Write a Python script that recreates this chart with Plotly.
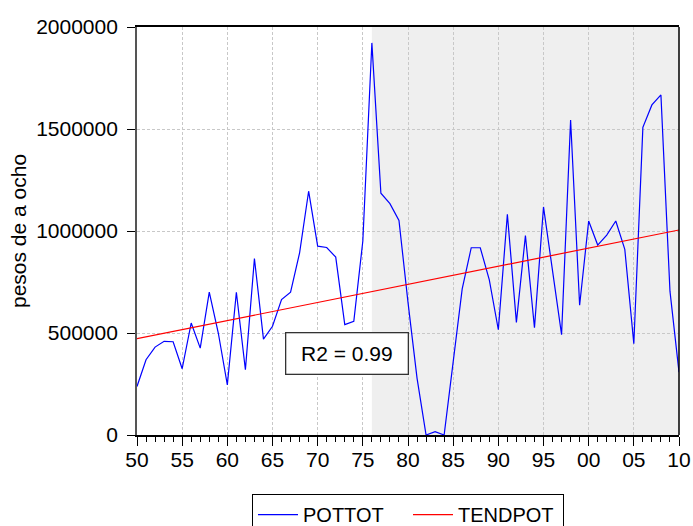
import plotly.graph_objects as go

# Years and series
years = list(range(1950, 2011))
pottot = [
    238000, 369000, 431000, 459000, 457000, 325000, 549000, 426000, 700000, 500000,
    246000, 700000, 320000, 865000, 470000, 533000, 664000, 700000, 893000, 1195000,
    926000, 919000, 872000, 541000, 557000, 951000, 1922000, 1185000, 1134000, 1052000,
    650000, 279000, 0, 16000, 0, 355000, 716000, 918000, 918000, 760000,
    516000, 1082000, 552000, 978000, 526000, 1118000, 805000, 492000, 1544000, 636000,
    1049000, 931000, 980000, 1049000, 910000, 447000, 1508000, 1618000, 1667000, 705000,
    308000,
]

# Linear trend (end points)
trend_years = [1950, 2010]
tendpot = [472000, 1005000]

# Shaded period
shade_start = 1976
shade_end = 2010

x_tickvals = list(range(1950, 2011, 5))
x_ticktext = ["50", "55", "60", "65", "70", "75", "80", "85", "90", "95", "00", "05", "10"]
y_tickvals = [0, 500000, 1000000, 1500000, 2000000]
y_ticktext = ["0", "500000", "1000000", "1500000", "2000000"]

font_family = "Liberation Sans, Arial, sans-serif"

# Create the line plots
line_pot = go.Scatter(x=years, y=pottot, mode='lines', name='POTTOT',
                      line=dict(color='#0000ff', width=1.2))
line_tend = go.Scatter(x=trend_years, y=tendpot, mode='lines', name='TENDPOT',
                       line=dict(color='#ff0000', width=1.2))

fig = go.Figure()
fig.add_trace(line_pot)
fig.add_trace(line_tend)

# Shaded region behind the grid
fig.add_shape(type='rect', xref='x', yref='y domain', x0=shade_start, x1=shade_end,
              y0=0, y1=1, fillcolor='#efefef', line_width=0, layer='below')

# Right border of the frame
fig.add_shape(type='line', xref='paper', yref='paper', x0=1, x1=1, y0=0, y1=1,
              line=dict(color='black', width=1.5))

fig.add_annotation(
    x=0.388, y=0.2, xref='paper', yref='paper',
    xanchor='center', yanchor='middle',
    text="R2 = 0.99", showarrow=False,
    font=dict(family=font_family, size=21, color='black'),
    bgcolor='white', bordercolor='#333333', borderwidth=1.3,
    borderpad=2, width=117, height=36,
)

fig.update_layout(
    width=693, height=526,
    margin=dict(l=137, r=14, t=27, b=91, autoexpand=False),
    paper_bgcolor='white',
    plot_bgcolor='white',
    font=dict(family=font_family, size=20, color='black'),
    showlegend=True,
    legend=dict(
        orientation='h', x=0.5, xanchor='center', y=-0.145, yanchor='top',
        bordercolor='black', borderwidth=1, bgcolor='white',
        font=dict(size=20), itemwidth=40, valign='top', entrywidth=100,
    ),
    xaxis=dict(
        range=[1950, 2010], automargin=False,
        tickvals=x_tickvals, ticktext=x_ticktext,
        ticks='outside', ticklen=9, tickcolor='black', tickwidth=1,
        ticklabelstandoff=-4,
        showline=True, linecolor='black', linewidth=1.5, mirror=True,
        showgrid=True, gridcolor='#c8c8c8', griddash='3px,2px', gridwidth=1,
        zeroline=False,
        tickfont=dict(size=21),
        minor=dict(dtick=1, tick0=1950, ticks='outside', ticklen=5,
                   tickcolor='black', showgrid=False),
    ),
    yaxis=dict(
        range=[0, 2000000], automargin=False,
        tickvals=y_tickvals, ticktext=y_ticktext,
        ticks='outside', ticklen=8, tickcolor='black', tickwidth=1,
        ticklabelstandoff=5,
        showline=True, linecolor='#555555', linewidth=1.8,
        showgrid=True, gridcolor='#c8c8c8', griddash='3px,2px', gridwidth=1,
        zeroline=False,
        tickfont=dict(size=21),
        title=dict(text="pesos de a ocho", font=dict(size=21), standoff=4),
    ),
)

# Drop the default page margin so the figure sits at the window corner
fig.write_html("out.html", config={'displayModeBar': False},
               post_script="document.body.style.margin = '0';")
